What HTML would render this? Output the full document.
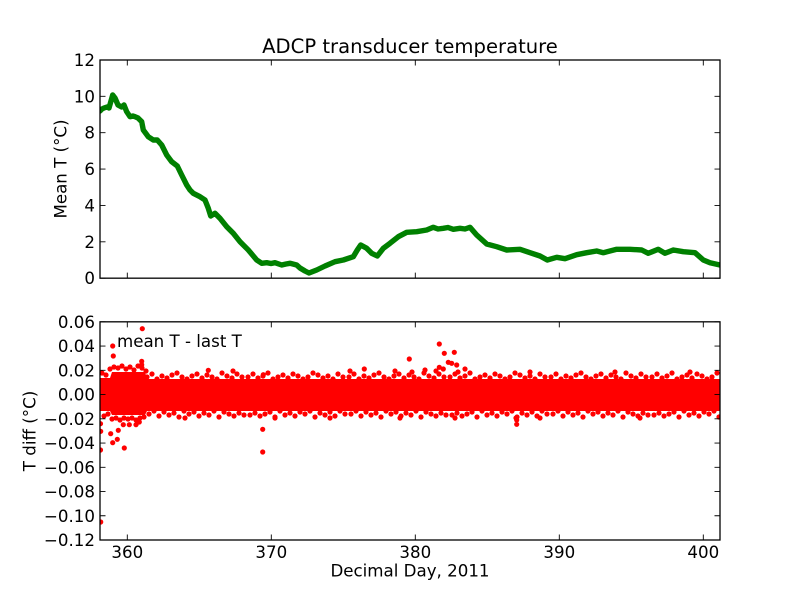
<!DOCTYPE html>
<html>
<head>
<meta charset="utf-8">
<style>
html,body{margin:0;padding:0;background:#fff;}
svg{display:block;}
text{font-family:"DejaVu Sans","Liberation Sans",sans-serif;fill:#000;}
</style>
</head>
<body>
<svg width="800" height="600" viewBox="0 0 800 600" xmlns="http://www.w3.org/2000/svg">
<defs>
<clipPath id="c1"><rect x="100" y="60" width="620" height="218.18"/></clipPath>
<clipPath id="c2"><rect x="100" y="321.82" width="620" height="218.18"/></clipPath>
</defs>
<rect width="800" height="600" fill="#fff"/>

<!-- TOP AXES DATA -->
<g clip-path="url(#c1)">
<polyline fill="none" stroke="#008000" stroke-width="5.4" stroke-linejoin="round" stroke-linecap="round"
points="100,111 102,109 104,108 107,107 109,108 111,101 112.7,95 115,98 118,105 121.7,107 124,105 126.7,111.7 130,116.7 133,116 135,116.7 138,118 141.7,121.7 143.3,130 148.3,136.7 153.3,140 157.3,140 161.7,145 166.7,155 171.7,161.7 177.3,166 181.7,175 186.7,185 190,190 193.3,193.3 200,196.7 205,200 208.3,208.3 210.7,216 215,213.3 220,218.3 226.7,226.7 233.3,233.3 240,241.7 248.3,250 256.7,260 261.7,263.3 266.7,262.7 271,263.5 275,262.7 281.7,265 286,264 290,263.3 296.7,265 300,268 305,271 309,273 316.7,270 325,266 335,261.7 343.3,260 353.3,256.7 357.3,250 360.7,245 366.7,248.3 371.7,253.3 377.3,256 383.3,248.3 390,243.3 398.3,236.7 406.7,232.3 416.7,231.7 426.7,230 433.3,227.3 438,229 443.3,228.3 448,227.5 453.3,229.3 460,228.3 465,229 470,227.3 476.7,235 486.7,244 496.7,246.7 506.7,250 520,249.3 530,252.7 540,256 547.3,260 556.7,257.3 565,258.7 576.7,254.7 586.7,252.7 596.7,251 603.3,252.7 616.7,249.3 630,249.3 641.7,250 648.3,253.3 658.3,249.3 665,253.3 673.3,250 683.3,251.7 695,252.7 703.3,260 710,262.7 720,265"/>
</g>

<!-- BOTTOM AXES DATA -->
<g clip-path="url(#c2)">
<path fill="#ff0000" d="M100 378 L110 378 L112 372 L145 372 L147 379 L720 379 L720 411 L147 411 L145 415 L112 415 L110 411 L100 411 Z"/>
<path fill="none" stroke="#ff0000" stroke-width="5.2" stroke-linecap="round" d="
M147 377h0M152 374h0M157 379h0M162 376h0M167 378h0M172 375h0M177 373h0M182 377h0M187 379h0M192 376h0M197 374h0M202 378h0M207 375h0M212 377h0M217 379h0M222 373h0M227 376h0M232 378h0M237 374h0M242 377h0
M248 377h0M253 374h0M258 378h0M263 376h0M268 373h0M273 379h0M278 377h0M283 375h0M288 378h0M293 374h0M298 376h0M303 379h0M308 377h0M313 373h0M318 375h0M323 378h0M328 376h0M333 379h0M338 374h0M343 377h0
M349 377h0M354 374h0M359 379h0M364 376h0M369 378h0M374 375h0M379 373h0M384 377h0M389 379h0M394 376h0M399 374h0M404 378h0M409 375h0M414 377h0M419 379h0M424 373h0M429 376h0M434 378h0M439 374h0M444 377h0
M450 377h0M455 374h0M460 378h0M465 376h0M470 373h0M475 379h0M480 377h0M485 375h0M490 378h0M495 374h0M500 376h0M505 379h0M510 377h0M515 373h0M520 375h0M525 378h0M530 376h0M535 379h0M540 374h0M545 377h0
M551 377h0M556 374h0M561 379h0M566 376h0M571 378h0M576 375h0M581 373h0M586 377h0M591 379h0M596 376h0M601 374h0M606 378h0M611 375h0M616 377h0M621 379h0M626 373h0M631 376h0M636 378h0M641 374h0M646 377h0
M652 377h0M657 374h0M662 378h0M667 376h0M672 373h0M677 379h0M682 377h0M687 375h0M692 378h0M697 374h0M702 376h0M707 379h0M712 377h0M717 373h0
M149 414h0M154 411h0M159 416h0M164 412h0M169 415h0M174 413h0M179 417h0M184 411h0M189 414h0M194 412h0M199 416h0M204 413h0M209 415h0M214 411h0M219 417h0M224 412h0M229 414h0M234 416h0M239 413h0M244 415h0
M250 415h0M255 413h0M260 416h0M265 414h0M270 412h0M275 417h0M280 411h0M285 415h0M290 413h0M295 416h0M300 412h0M305 414h0M310 411h0M315 417h0M320 413h0M325 415h0M330 412h0M335 416h0M340 411h0M345 414h0
M351 414h0M356 411h0M361 416h0M366 412h0M371 415h0M376 413h0M381 417h0M386 411h0M391 414h0M396 412h0M401 416h0M406 413h0M411 415h0M416 411h0M421 417h0M426 412h0M431 414h0M436 416h0M441 413h0M446 415h0
M452 415h0M457 413h0M462 416h0M467 414h0M472 412h0M477 417h0M482 411h0M487 415h0M492 413h0M497 416h0M502 412h0M507 414h0M512 411h0M517 417h0M522 413h0M527 415h0M532 412h0M537 416h0M542 411h0M547 414h0
M553 414h0M558 411h0M563 416h0M568 412h0M573 415h0M578 413h0M583 417h0M588 411h0M593 414h0M598 412h0M603 416h0M608 413h0M613 415h0M618 411h0M623 417h0M628 412h0M633 414h0M638 416h0M643 413h0M648 415h0
M654 415h0M659 413h0M664 416h0M669 414h0M674 412h0M679 417h0M684 411h0M689 415h0M694 413h0M699 416h0M704 412h0M709 414h0M714 411h0M719 417h0
M233 371h0M350 371h0M395 371h0M412 372h0M425 370h0M436 371h0M458 372h0M530 372h0M615 372h0M690 372h0
M185 418h0M275 418h0M330 418h0M400 418h0M455 418h0M540 418h0M640 418h0
M102 373h0M104 416h0M106 375h0M108 414h0M110 369h0M112 419h0M114 367h0M116 418h0M118 368h0M120 420h0M122 366h0M124 418h0M126 369h0M128 419h0M130 367h0M132 418h0M134 370h0M136 420h0M138 366h0M140 418h0M142 368h0M144 417h0M146 371h0
M142.3 328.7h0M112.7 346h0M113.3 356h0M141.7 361.3h0M141.7 364.7h0M100.7 431.3h0M100.5 450h0M110.7 433.7h0M112.7 442.7h0M117.3 439.3h0M118.3 430.3h0M123.3 424.7h0M129.3 424.7h0M124.3 448h0M136 424.7h0M139.3 422h0M262.7 429.3h0M262.7 452h0M100.5 423.7h0M208.3 370.3h0M263.3 374.7h0M100.7 522h0M439.3 344h0M444.3 353.3h0M454.3 352.3h0M409.3 359h0M448.3 362.3h0M451.7 363.3h0M456.7 365h0M439.3 367.3h0M364.3 369h0M465 369h0M443.3 369h0M516.7 420h0M516.7 424.3h0M516 418h0"/>
</g>

<!-- TICKS -->
<g stroke="#000" stroke-width="0.9" fill="none">
<path d="M100 278.18h5.5M100 241.82h5.5M100 205.45h5.5M100 169.09h5.5M100 132.73h5.5M100 96.36h5.5M100 60h5.5
M720 278.18h-5.5M720 241.82h-5.5M720 205.45h-5.5M720 169.09h-5.5M720 132.73h-5.5M720 96.36h-5.5M720 60h-5.5"/>
<path d="M127.3 278.18v-5.5M271.3 278.18v-5.5M415.3 278.18v-5.5M559.3 278.18v-5.5M703.3 278.18v-5.5
M127.3 60v5.5M271.3 60v5.5M415.3 60v5.5M559.3 60v5.5M703.3 60v5.5"/>
<path d="M100 540h5.5M100 515.76h5.5M100 491.52h5.5M100 467.27h5.5M100 443.03h5.5M100 418.79h5.5M100 394.55h5.5M100 370.3h5.5M100 346.06h5.5M100 321.82h5.5
M720 540h-5.5M720 515.76h-5.5M720 491.52h-5.5M720 467.27h-5.5M720 443.03h-5.5M720 418.79h-5.5M720 394.55h-5.5M720 370.3h-5.5M720 346.06h-5.5M720 321.82h-5.5"/>
<path d="M127.3 540v-5.5M271.3 540v-5.5M415.3 540v-5.5M559.3 540v-5.5M703.3 540v-5.5
M127.3 321.82v5.5M271.3 321.82v5.5M415.3 321.82v5.5M559.3 321.82v5.5M703.3 321.82v5.5"/>
</g>

<!-- SPINES -->
<rect x="100" y="60" width="620" height="218.18" fill="none" stroke="#000" stroke-width="1.3"/>
<rect x="100" y="321.82" width="620" height="218.18" fill="none" stroke="#000" stroke-width="1.3"/>

<!-- TEXT -->
<text x="410" y="53" font-size="19.6" text-anchor="middle">ADCP transducer temperature</text>

<g font-size="16.67" text-anchor="end">
<text x="95" y="284.2">0</text>
<text x="95" y="247.8">2</text>
<text x="95" y="211.5">4</text>
<text x="95" y="175.1">6</text>
<text x="95" y="138.7">8</text>
<text x="95" y="102.4">10</text>
<text x="95" y="66">12</text>

<text x="95" y="546">−0.12</text>
<text x="95" y="521.8">−0.10</text>
<text x="95" y="497.5">−0.08</text>
<text x="95" y="473.3">−0.06</text>
<text x="95" y="449">−0.04</text>
<text x="95" y="424.8">−0.02</text>
<text x="95" y="400.5">0.00</text>
<text x="95" y="376.3">0.02</text>
<text x="95" y="352.1">0.04</text>
<text x="95" y="327.8">0.06</text>
</g>

<g font-size="16.67" text-anchor="middle">
<text x="127.3" y="558">360</text>
<text x="271.3" y="558">370</text>
<text x="415.3" y="558">380</text>
<text x="559.3" y="558">390</text>
<text x="703.3" y="558">400</text>
<text x="410" y="576.5">Decimal Day, 2011</text>
<text transform="translate(66.5,169) rotate(-90)">Mean T (°C)</text>
<text transform="translate(35.5,431) rotate(-90)">T diff (°C)</text>
</g>

<text x="117" y="347" font-size="16.67">mean T - last T</text>
</svg>
</body>
</html>
